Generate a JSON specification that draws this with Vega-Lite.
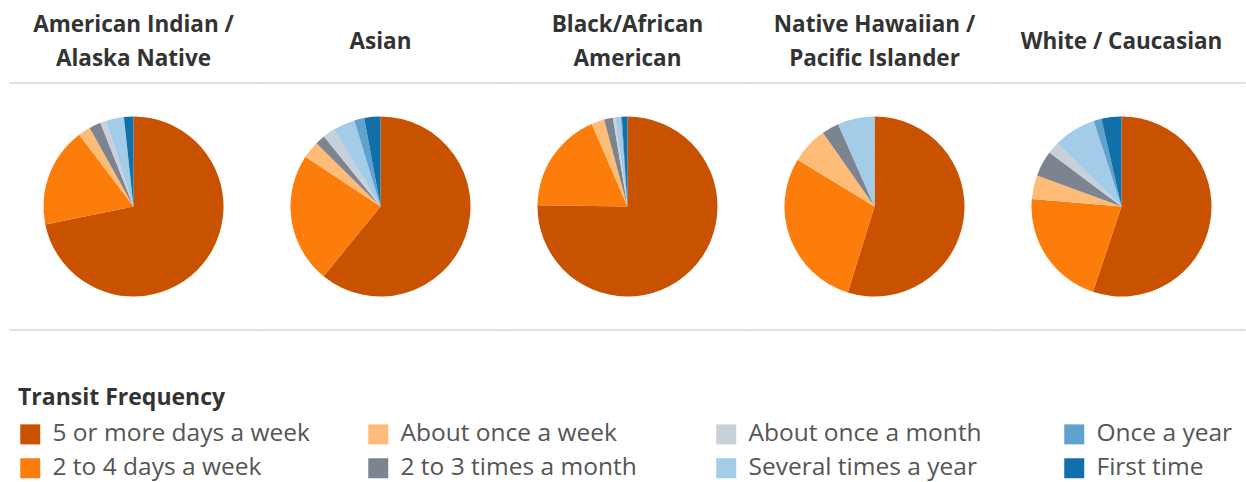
{
  "$schema": "https://vega.github.io/schema/vega-lite/v6.json",
  "padding": {"left": 8, "top": 13, "right": 0, "bottom": 0},
  "bounds": "flush",
  "background": "white",
  "data": {"values": [
    {"race": "American Indian / Alaska Native", "freq": "5 or more days a week", "rank": 1, "pct": 71.8},
    {"race": "American Indian / Alaska Native", "freq": "2 to 4 days a week", "rank": 2, "pct": 17.9},
    {"race": "American Indian / Alaska Native", "freq": "About once a week", "rank": 3, "pct": 2.2},
    {"race": "American Indian / Alaska Native", "freq": "2 to 3 times a month", "rank": 4, "pct": 2.1},
    {"race": "American Indian / Alaska Native", "freq": "About once a month", "rank": 5, "pct": 1.1},
    {"race": "American Indian / Alaska Native", "freq": "Several times a year", "rank": 6, "pct": 3.2},
    {"race": "American Indian / Alaska Native", "freq": "Once a year", "rank": 7, "pct": 0.0},
    {"race": "American Indian / Alaska Native", "freq": "First time", "rank": 8, "pct": 1.7},
    {"race": "Asian", "freq": "5 or more days a week", "rank": 1, "pct": 60.9},
    {"race": "Asian", "freq": "2 to 4 days a week", "rank": 2, "pct": 23.4},
    {"race": "Asian", "freq": "About once a week", "rank": 3, "pct": 3.1},
    {"race": "Asian", "freq": "2 to 3 times a month", "rank": 4, "pct": 1.8},
    {"race": "Asian", "freq": "About once a month", "rank": 5, "pct": 2.1},
    {"race": "Asian", "freq": "Several times a year", "rank": 6, "pct": 4.0},
    {"race": "Asian", "freq": "Once a year", "rank": 7, "pct": 1.8},
    {"race": "Asian", "freq": "First time", "rank": 8, "pct": 2.9},
    {"race": "Black/African American", "freq": "5 or more days a week", "rank": 1, "pct": 75.3},
    {"race": "Black/African American", "freq": "2 to 4 days a week", "rank": 2, "pct": 18.3},
    {"race": "Black/African American", "freq": "About once a week", "rank": 3, "pct": 2.3},
    {"race": "Black/African American", "freq": "2 to 3 times a month", "rank": 4, "pct": 1.6},
    {"race": "Black/African American", "freq": "About once a month", "rank": 5, "pct": 0.4},
    {"race": "Black/African American", "freq": "Several times a year", "rank": 6, "pct": 1.0},
    {"race": "Black/African American", "freq": "Once a year", "rank": 7, "pct": 0.2},
    {"race": "Black/African American", "freq": "First time", "rank": 8, "pct": 1.0},
    {"race": "Native Hawaiian / Pacific Islander", "freq": "5 or more days a week", "rank": 1, "pct": 54.8},
    {"race": "Native Hawaiian / Pacific Islander", "freq": "2 to 4 days a week", "rank": 2, "pct": 28.9},
    {"race": "Native Hawaiian / Pacific Islander", "freq": "About once a week", "rank": 3, "pct": 6.6},
    {"race": "Native Hawaiian / Pacific Islander", "freq": "2 to 3 times a month", "rank": 4, "pct": 3.1},
    {"race": "Native Hawaiian / Pacific Islander", "freq": "About once a month", "rank": 5, "pct": 0.0},
    {"race": "Native Hawaiian / Pacific Islander", "freq": "Several times a year", "rank": 6, "pct": 6.6},
    {"race": "Native Hawaiian / Pacific Islander", "freq": "Once a year", "rank": 7, "pct": 0.0},
    {"race": "Native Hawaiian / Pacific Islander", "freq": "First time", "rank": 8, "pct": 0.0},
    {"race": "White / Caucasian", "freq": "5 or more days a week", "rank": 1, "pct": 55.2},
    {"race": "White / Caucasian", "freq": "2 to 4 days a week", "rank": 2, "pct": 21.2},
    {"race": "White / Caucasian", "freq": "About once a week", "rank": 3, "pct": 4.3},
    {"race": "White / Caucasian", "freq": "2 to 3 times a month", "rank": 4, "pct": 4.6},
    {"race": "White / Caucasian", "freq": "About once a month", "rank": 5, "pct": 2.2},
    {"race": "White / Caucasian", "freq": "Several times a year", "rank": 6, "pct": 7.6},
    {"race": "White / Caucasian", "freq": "Once a year", "rank": 7, "pct": 1.4},
    {"race": "White / Caucasian", "freq": "First time", "rank": 8, "pct": 3.6}
  ]},
  "facet": {
    "column": {
      "field": "race",
      "type": "nominal",
      "sort": ["American Indian / Alaska Native", "Asian", "Black/African American", "Native Hawaiian / Pacific Islander", "White / Caucasian"],
      "header": {
        "title": null,
        "labelExpr": "datum.value == 'American Indian / Alaska Native' ? ['American Indian /', '\u200b', 'Alaska Native'] : datum.value == 'Black/African American' ? ['Black/African', '\u200b', 'American'] : datum.value == 'Native Hawaiian / Pacific Islander' ? ['Native Hawaiian /', '\u200b', 'Pacific Islander'] : [datum.value, '\u200b']",
        "labelFont": "Open Sans",
        "labelFontSize": 22.5,
        "labelFontWeight": "bold",
        "labelColor": "#333333",
        "labelBaseline": "middle",
        "labelLineHeight": 17,
        "labelPadding": 2
      }
    }
  },
  "spacing": 0,
  "resolve": {"scale": {"theta": "independent"}},
  "spec": {
    "width": 247,
    "height": 247,
    "layer": [
      {
        "mark": {"type": "arc", "outerRadius": 90},
        "encoding": {
          "theta": {"field": "pct", "type": "quantitative", "stack": true},
          "order": {"field": "rank", "type": "quantitative", "sort": "ascending"},
          "color": {
            "field": "freq",
            "type": "nominal",
            "title": "Transit Frequency",
            "scale": {
              "domain": ["5 or more days a week", "About once a week", "About once a month", "Once a year", "2 to 4 days a week", "2 to 3 times a month", "Several times a year", "First time"],
              "range": ["#c85200", "#ffbc79", "#c8d0d9", "#5fa2ce", "#fc7d0b", "#7b848f", "#a3cce9", "#1170aa"]
            },
            "legend": {
              "orient": "bottom",
              "direction": "horizontal",
              "columns": 4,
              "gridAlign": "all",
              "offset": 47,
              "padding": 8,
              "columnPadding": 56,
              "rowPadding": 9,
              "symbolType": "square",
              "symbolSize": 400,
              "symbolStrokeWidth": 0,
              "symbolOpacity": 1,
              "labelOffset": 10,
              "labelFont": "Open Sans",
              "labelFontSize": 24.5,
              "labelColor": "#555555",
              "labelLimit": 400,
              "titleFont": "Open Sans",
              "titleFontSize": 23,
              "titleFontWeight": "bold",
              "titleColor": "#333333",
              "titleLimit": 400,
              "titlePadding": 12
            }
          }
        }
      },
      {
        "transform": [{"aggregate": [{"op": "count", "as": "n"}], "groupby": ["race"]}],
        "mark": {"type": "rule", "color": "#d6d6d6", "strokeWidth": 1.5, "strokeCap": "square"},
        "encoding": {"y": {"value": 0}}
      },
      {
        "transform": [{"aggregate": [{"op": "count", "as": "n"}], "groupby": ["race"]}],
        "mark": {"type": "rule", "color": "#d6d6d6", "strokeWidth": 1.5, "strokeCap": "square"},
        "encoding": {"y": {"value": "height"}}
      }
    ]
  },
  "config": {
    "view": {"stroke": null}
  }
}
